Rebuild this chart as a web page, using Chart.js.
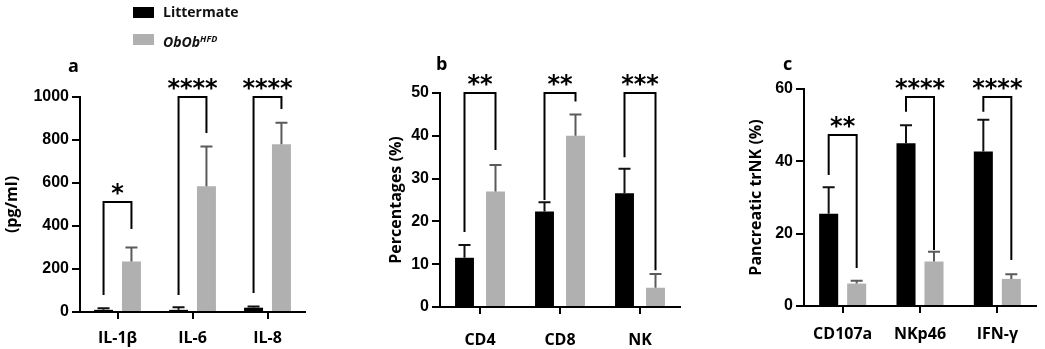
<!DOCTYPE html>
<html>
<head>
<meta charset="utf-8">
<script src="https://cdn.jsdelivr.net/npm/chart.js@4.4.1/dist/chart.umd.min.js"></script>
<style>
  html, body { margin: 0; padding: 0; background: #fff; }
  #wrap { position: relative; width: 1045px; height: 349px; overflow: hidden; }
  .panel { position: absolute; top: 0; height: 349px; }
  .legend { position: absolute; left: 133px; font-family: "Open Sans", sans-serif; font-weight: 700; font-size: 14px; color: #111; }
  .legend .box { position: absolute; left: 0; width: 21px; height: 11px; }
  .legend .txt { position: absolute; left: 30px; white-space: nowrap; line-height: 14px; }
  .legend sup { font-size: 9px; vertical-align: 5px; }
</style>
</head>
<body>
<div id="wrap">
  <div class="panel" style="left:0;width:340px"><canvas id="chartA"></canvas></div>
  <div class="panel" style="left:350px;width:345px"><canvas id="chartB"></canvas></div>
  <div class="panel" style="left:700px;width:345px"><canvas id="chartC"></canvas></div>
  <div class="legend" style="top:7px"><div class="box" style="background:#000"></div><div class="txt" style="top:-2px">Littermate</div></div>
  <div class="legend" style="top:34px"><div class="box" style="background:#b0b0b0"></div><div class="txt" style="top:-2px;font-style:italic">ObOb<sup>HFD</sup></div></div>
</div>
<script>
"use strict";

// ── panel a: cytokines ─────────────────────────────────
const cytoLabels = ["IL-1β", "IL-6", "IL-8"];
const cytoLitter = [10, 10, 20];
const cytoLitterErr = [18, 22, 26];
const cytoObob = [235, 585, 780];
const cytoObobErr = [300, 770, 880];
const cytoTicks = [0, 200, 400, 600, 800, 1000];
// bracket: [top, left leg end, right leg end]
const cytoBrackets = [[512, 79, 386], [1000, 79, 833], [1000, 88, 944]];
const cytoStars = ["*", "****", "****"];

// ── panel b: T / NK percentages ────────────────────────
const cellLabels = ["CD4", "CD8", "NK"];
const cellLitter = [11.5, 22.3, 26.6];
const cellLitterErr = [14.5, 24.5, 32.3];
const cellObob = [27, 40, 4.5];
const cellObobErr = [33.2, 45, 7.7];
const cellTicks = [0, 10, 20, 30, 40, 50];
const cellBrackets = [[50, 17.5, 36.7], [50, 25, 48], [50, 35, 8.6]];
const cellStars = ["**", "**", "***"];

// ── panel c: pancreatic trNK ───────────────────────────
const nkLabels = ["CD107a", "NKp46", "IFN-γ"];
const nkLitter = [25.5, 45, 42.7];
const nkLitterErr = [32.8, 50, 51.5];
const nkObob = [6.2, 12.3, 7.5];
const nkObobErr = [7, 15, 8.8];
const nkTicks = [0, 20, 40, 60];
const nkBrackets = [[47.3, 36.2, 10.5], [57.8, 53.7, 15.5], [57.8, 53.7, 12.7]];
const nkStars = ["**", "****", "****"];

const BLACK = "#000000";
const GRAY = "#b0b0b0";
const TICK_FONT = { family: "'Liberation Sans', Arial, sans-serif", size: 16, weight: "bold" };
const LABEL_FONT = { family: "'Open Sans', sans-serif", size: 16, weight: "bold" };

// error bars + significance brackets + panel letter
const annotPlugin = {
  id: "annot",
  afterDatasetsDraw(chart, args, opts) {
    const ctx = chart.ctx;
    const y = chart.scales.y;
    const m0 = chart.getDatasetMeta(0);
    const m1 = chart.getDatasetMeta(1);
    ctx.save();
    ctx.lineCap = "butt";
    // error bars (upper only)
    [[m0, opts.err0, "#111"], [m1, opts.err1, "#5a5a5a"]].forEach(([meta, errs, col]) => {
      meta.data.forEach((bar, i) => {
        const yt = y.getPixelForValue(errs[i]);
        ctx.strokeStyle = col;
        ctx.lineWidth = 2;
        ctx.beginPath();
        ctx.moveTo(bar.x, bar.y);
        ctx.lineTo(bar.x, yt);
        ctx.moveTo(bar.x - 6, yt);
        ctx.lineTo(bar.x + 6, yt);
        ctx.stroke();
      });
    });
    // brackets
    ctx.strokeStyle = "#000";
    ctx.fillStyle = "#000";
    ctx.lineWidth = 2;
    opts.brackets.forEach((b, i) => {
      const xl = m0.data[i].x;
      const xr = m1.data[i].x;
      const yTop = y.getPixelForValue(b[0]);
      ctx.beginPath();
      ctx.moveTo(xl, y.getPixelForValue(b[1]));
      ctx.lineTo(xl, yTop);
      ctx.lineTo(xr, yTop);
      ctx.lineTo(xr, y.getPixelForValue(b[2]));
      ctx.stroke();
      ctx.font = "bold 24px 'DejaVu Sans', sans-serif";
      ctx.textAlign = "center";
      ctx.textBaseline = "alphabetic";
      ctx.fillText(opts.stars[i], (xl + xr) / 2, yTop - 1);
    });
    // panel letter
    ctx.font = "bold 18px 'Open Sans', sans-serif";
    ctx.textAlign = "left";
    ctx.textBaseline = "middle";
    ctx.fillText(opts.letter, opts.letterX, opts.letterY);
    ctx.restore();
  },
};

function buildPanel(id, cfg) {
  const el = document.getElementById(id);
  el.width = cfg.width;
  el.height = 349;
  return new Chart(el, {
    type: "bar",
    data: {
      labels: cfg.labels,
      datasets: [
        { label: "Littermate", data: cfg.litter, backgroundColor: BLACK,
          categoryPercentage: cfg.catPct, barPercentage: cfg.barPct },
        { label: "ObOb HFD", data: cfg.obob, backgroundColor: GRAY,
          categoryPercentage: cfg.catPct, barPercentage: cfg.barPct },
      ],
    },
    options: {
      responsive: false,
      animation: false,
      layout: { padding: { top: cfg.top, right: cfg.right, bottom: 0, left: 0 } },
      plugins: {
        legend: { display: false },
        tooltip: { enabled: false },
        annot: {
          err0: cfg.litterErr, err1: cfg.obobErr,
          brackets: cfg.brackets, stars: cfg.stars,
          letter: cfg.letter, letterX: cfg.letterX, letterY: cfg.letterY,
        },
      },
      scales: {
        x: {
          offset: true,
          border: { color: "#000", width: 2 },
          grid: { display: true, drawOnChartArea: false, offset: false, drawTicks: true,
                  tickLength: 7, color: "#000", lineWidth: 2 },
          ticks: { color: "#000", font: LABEL_FONT, padding: cfg.xPad, maxRotation: 0 },
          afterFit: (s) => { s.height = cfg.xHeight; },
        },
        y: {
          min: 0,
          max: cfg.ticks[cfg.ticks.length - 1],
          afterBuildTicks: (s) => { s.ticks = cfg.ticks.map((v) => ({ value: v })); },
          border: { color: "#000", width: 2 },
          grid: { display: true, drawOnChartArea: false, drawTicks: true,
                  tickLength: 8, color: "#000", lineWidth: 2 },
          ticks: { color: "#000", font: TICK_FONT, padding: 3, callback: (v) => String(v) },
          title: { display: true, text: cfg.yTitle, color: "#000", font: LABEL_FONT,
                   padding: { top: cfg.titlePad, bottom: 0 } },
          afterFit: (s) => { s.width = cfg.yWidth; },
        },
      },
    },
    plugins: [annotPlugin],
  });
}

buildPanel("chartA", {
  width: 340, labels: cytoLabels, litter: cytoLitter, obob: cytoObob,
  litterErr: cytoLitterErr, obobErr: cytoObobErr, ticks: cytoTicks,
  brackets: cytoBrackets, stars: cytoStars,
  top: 97, right: 35, yWidth: 80, xHeight: 37, xPad: 10,
  catPct: 0.744, barPct: 0.68, yTitle: "(pg/ml)", titlePad: 3,
  letter: "a", letterX: 68, letterY: 67,
});

buildPanel("chartB", {
  width: 345, labels: cellLabels, litter: cellLitter, obob: cellObob,
  litterErr: cellLitterErr, obobErr: cellObobErr, ticks: cellTicks,
  brackets: cellBrackets, stars: cellStars,
  top: 93, right: 15, yWidth: 90, xHeight: 42, xPad: 17,
  catPct: 0.775, barPct: 0.61, yTitle: "Percentages (%)", titlePad: 37,
  letter: "b", letterX: 86, letterY: 65,
});

buildPanel("chartC", {
  width: 345, labels: nkLabels, litter: nkLitter, obob: nkObob,
  litterErr: nkLitterErr, obobErr: nkObobErr, ticks: nkTicks,
  brackets: nkBrackets, stars: nkStars,
  top: 89, right: 9, yWidth: 104, xHeight: 43, xPad: 12,
  catPct: 0.724, barPct: 0.68, yTitle: "Pancreatic trNK (%)", titlePad: 47,
  letter: "c", letterX: 83, letterY: 65,
});
</script>
</body>
</html>
